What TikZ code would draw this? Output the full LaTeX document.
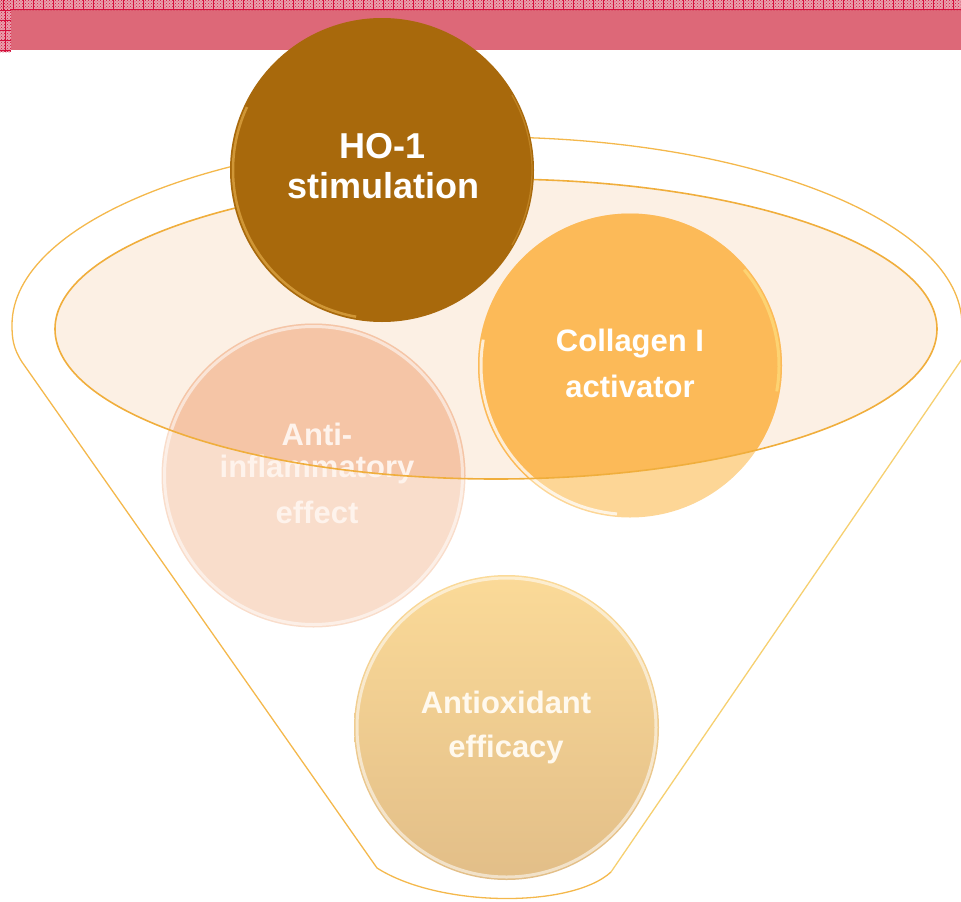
\documentclass[tikz,border=0pt]{standalone}
\usepackage{fontspec}
\setmainfont{Liberation Sans}
\usetikzlibrary{patterns}
\definecolor{bandpink}{HTML}{DD6878}
\definecolor{chkpink}{HTML}{E9A2AE}
\definecolor{chkred}{HTML}{D4103C}
\definecolor{funnelline}{HTML}{F4B84C}
\definecolor{funnelright}{HTML}{F6D070}
\definecolor{mouthfill}{HTML}{FCF0E4}
\definecolor{mouthline}{HTML}{F0AE3C}
\definecolor{hobrown}{HTML}{A8690C}
\definecolor{horim}{HTML}{E2AA48}
\definecolor{collight}{HTML}{FDD696}
\definecolor{coldark}{HTML}{FCBA58}
\definecolor{antilight}{HTML}{F9DDCB}
\definecolor{antidark}{HTML}{F5C5A6}
\definecolor{oxtop}{HTML}{FBDA98}
\definecolor{oxbot}{HTML}{E2BE88}
\definecolor{antitext}{HTML}{FEF3EC}
\definecolor{oxtext}{HTML}{FFF9EE}
\begin{document}
\begin{tikzpicture}[x=1pt,y=-1pt,
  bubble/.style={circle,inner sep=0pt,minimum size=304pt},
  rim/.style={line width=3pt,opacity=0.55},
  lbl/.style={anchor=base,inner sep=0pt,text=white,font=\bfseries\fontsize{31}{31}\selectfont},
  holbl/.style={lbl,font=\bfseries\fontsize{36}{36}\selectfont},
  outline/.style={line width=1.3pt,funnelline},
  gridline/.style={chkred,line width=0.8pt}]
\useasboundingbox (0,0) rectangle (961,902);
% top band
\fill[bandpink] (0,0) rectangle (961,50);
\fill[chkpink] (0,0) rectangle (961,10);
\fill[chkpink] (0,0) rectangle (11,52);
\fill[pattern=crosshatch dots,pattern color=chkred] (0,0) rectangle (961,10);
\fill[pattern=crosshatch dots,pattern color=chkred] (0,0) rectangle (11,52);
\foreach \x in {3,13,...,963} \draw[gridline] (\x,0) -- (\x,10);
\foreach \y in {10,20,...,50} \draw[gridline] (0,\y) -- (11,\y);
\draw[gridline] (5.5,10) -- (5.5,52);
\draw[chkred,line width=0.6pt] (11,9.5) -- (961,9.5);
% funnel outline
\coordinate (fl) at (22,362);
\coordinate (fr) at (964,356);
\coordinate (bl) at (377,868);
\coordinate (br) at (611,872);
\draw[outline] (bl) -- (fl) .. controls (13,348) and (12,338) .. (12,325)
  arc[start angle=180,end angle=360,x radius=475,y radius=188]
  .. controls (964,338) and (965,348) .. (fr);
\draw[line width=1.3pt,funnelright] (fr) -- (br);
\draw[outline] (br) .. controls (572,908) and (440,908) .. (bl);
% funnel mouth
\coordinate (mouth) at (496,329);
\fill[mouthfill] (mouth) ellipse[x radius=441,y radius=150];
% circles
\node[bubble,fill=antilight] (anti) at (313.5,475.5) {};
\node[bubble,fill=collight] (col) at (630,365.5) {};
\shade[top color=oxtop,bottom color=oxbot] (506.5,727.5) circle[radius=152.5];
\node[bubble] (ox) at (506.5,727.5) {};
\begin{scope}
  \clip (mouth) ellipse[x radius=441,y radius=150];
  \fill[antidark] (anti.center) circle[radius=152];
  \fill[coldark] (col.center) circle[radius=152];
\end{scope}
\draw[rim,white] (anti.center) circle[radius=149];
\draw[rim,white] (ox.center) circle[radius=149.5];
\draw[rim,white,opacity=0.75] (col.center)+(95:149) arc[start angle=95,end angle=190,radius=149];
\draw[rim,yellow!40,opacity=0.4] (col.center)+(-40:149) arc[start angle=-40,end angle=10,radius=149];
% labels
\node[lbl,text=antitext] (antia) at (317,445) {Anti-};
\node[lbl,text=antitext] (antib) at (317,477) {inflammatory};
\node[lbl,text=antitext] (antic) at (317,523) {effect};
\node[lbl] (cola) at (630,351) {Collagen I};
\node[lbl] (colb) at (630,397) {activator};
\node[lbl,text=oxtext] (oxa) at (506,713) {Antioxidant};
\node[lbl,text=oxtext] (oxb) at (506,757) {efficacy};
% mouth outline on top
\draw[mouthline,line width=1.6pt] (mouth) ellipse[x radius=441,y radius=150];
% HO-1 circle
\node[bubble,fill=hobrown] (ho) at (382,170) {};
\draw[horim,line width=2.5pt,opacity=0.7] (ho.center)+(100:149) arc[start angle=100,end angle=205,radius=149];
\draw[horim,line width=1.2pt,opacity=0.4] (ho.center)+(-30:150) arc[start angle=-30,end angle=30,radius=150];
\node[holbl] (hoa) at (383,158) {HO-1};
\node[holbl] (hob) at (383,198) {stimulation};
\end{tikzpicture}
\end{document}
